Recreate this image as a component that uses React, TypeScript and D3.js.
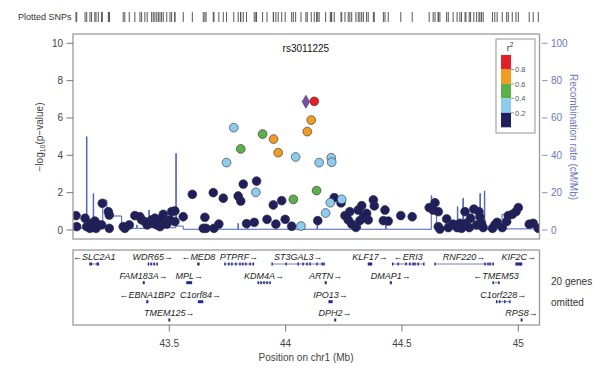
import * as d3 from "d3";

// SNPs: position (Mb), -log10(p), r2 with the lead SNP
const snpPos = [
  43.099, 43.102, 43.138, 43.145, 43.159, 43.166, 43.18, 43.185, 43.195, 43.209, 43.212, 43.238, 43.242, 43.242,
  43.302, 43.309, 43.328, 43.352, 43.374, 43.381, 43.395, 43.405, 43.424, 43.431, 43.438, 43.446, 43.453, 43.46,
  43.467, 43.474, 43.489, 43.503, 43.51, 43.524, 43.524, 43.56, 43.599, 43.646, 43.658, 43.653, 43.689, 43.692,
  43.713, 43.732, 43.818, 43.875, 43.796, 43.807, 43.947, 43.983, 43.832, 43.865, 43.92, 43.958, 43.998, 44.026,
  44.138, 44.209, 44.238, 44.255, 44.269, 44.284, 44.302, 44.276, 44.312, 44.327, 44.334, 44.348, 44.355, 44.377,
  44.381, 44.319, 44.427, 44.42, 44.441, 44.495, 44.544, 44.617, 44.642, 44.634, 44.656, 44.656, 44.663, 44.692,
  44.699, 44.72, 44.737, 44.749, 44.756, 44.771, 44.775, 44.789, 44.795, 44.809, 44.821, 44.831, 44.835, 44.842,
  44.849, 44.899, 44.909, 44.889, 44.931, 44.95, 44.957, 44.974, 44.99, 45.0, 45.047, 45.064, 45.086,
  43.777, 43.746, 44.043, 44.144, 44.196, 44.198, 43.872, 44.066, 44.172, 44.192, 44.241,
  43.901, 43.807, 44.033, 44.133,
  44.11, 44.093, 43.948, 43.968,
  44.123,
];
const snpLogP = [
  0.77, 0.18, 0.63, 0.18, 0.09, 0.36, 0.48, 0.09, 0.27, 0.27, 1.43, 0.98, 0.8, 0.09,
  0.18, 0.09, 0.27, 0.77, 0.71, 0.54, 0.45, 0.27, 0.54, 0.36, 0.63, 0.27, 0.45, 0.18,
  0.63, 0.84, 0.31, 0.54, 0.98, 1.02, 0.45, 0.71, 1.91, 0.09, 0.09, 0.68, 2.0, 0.09,
  0.32, 1.7, 2.46, 2.62, 1.82, 1.55, 1.34, 1.57, 0.34, 0.41, 0.57, 0.32, 0.57, 0.2,
  0.5, 1.73, 1.45, 0.77, 0.54, 0.32, 0.14, 0.98, 1.07, 1.3, 0.71, 0.89, 0.54, 1.61,
  1.29, 0.5, 1.07, 0.5, 0.48, 0.77, 0.71, 1.2, 1.46, 1.07, 0.98, 0.18, 0.05, 0.59,
  0.13, 0.31, 0.13, 0.36, 0.09, 0.98, 0.36, 0.13, 0.63, 1.12, 0.27, 0.98, 0.71, 0.36,
  0.13, 0.27, 0.41, 0.09, 0.13, 0.45, 0.77, 0.84, 0.98, 1.2, 0.31, 0.36, 0.09,
  5.48, 3.61, 3.91, 3.61, 3.87, 3.63, 2.02, 0.21, 0.91, 1.46, 1.64,
  5.14, 4.34, 1.64, 2.11,
  5.89, 5.27, 4.87, 4.14,
  6.89,
];
const snpR2 = [
  ...Array(111).fill(0.1),
  0.3, 0.3, 0.3, 0.3, 0.3, 0.3, 0.3, 0.3, 0.3, 0.3, 0.3,
  0.5, 0.5, 0.5, 0.5,
  0.7, 0.7, 0.7, 0.7,
  0.9,
];
const leadName = "rs3011225";
const leadPos = 44.087;
const leadLogP = 6.87;

// recombination rate (cM/Mb), step line
const recombPos = [
  43.07, 43.143, 43.144, 43.146, 43.172, 43.173, 43.175, 43.214, 43.232, 43.295, 43.36, 43.362, 43.412, 43.414,
  43.452, 43.454, 43.528, 43.53, 43.56, 43.795, 43.797, 43.835, 43.837, 44.135, 44.137, 44.3, 44.302, 44.32, 44.322,
  44.43, 44.432, 44.626, 44.628, 44.648, 44.738, 44.74, 44.762, 44.764, 44.835, 44.837, 44.854, 44.856, 44.93,
  44.942, 45.1,
];
const recombRate = [
  0.9, 0.9, 50, 0.9, 0.9, 19.5, 2, 16, 7.5, 0.9, 2.7, 0.9, 10.7, 1.2,
  4, 1.2, 41, 2.1, 0.4, 3.5, 0.4, 2, 0.4, 3, 0.4, 3, 0.4, 2.5, 0.4,
  2.8, 0.4, 18.4, 9.5, 0.6, 12.5, 0.6, 17, 0.6, 19.6, 0.6, 20.9, 0.6, 8.4,
  0.6, 0.6,
];

// genes
const geneNames = [
  "SLC2A1", "WDR65", "MED8", "PTPRF", "ST3GAL3", "KLF17", "ERI3", "RNF220", "KIF2C",
  "FAM183A", "MPL", "KDM4A", "ARTN", "DMAP1", "TMEM53",
  "EBNA1BP2", "C1orf84", "IPO13", "C1orf228",
  "TMEM125", "DPH2", "RPS8",
];
const geneStart = [
  43.159, 43.41, 43.622, 43.739, 43.94, 44.355, 44.46, 44.642, 44.99,
  43.388, 43.575, 43.882, 44.17, 44.45, 44.892,
  43.403, 43.625, 44.186, 44.907,
  43.498, 44.211, 45.012,
];
const geneEnd = [
  43.195, 43.448, 43.628, 43.861, 44.169, 44.37, 44.594, 44.892, 45.014,
  43.392, 43.596, 43.933, 44.174, 44.453, 44.917,
  43.408, 43.644, 44.2, 44.964,
  43.502, 44.213, 45.015,
];
const geneStrand = [-1, 1, -1, 1, 1, 1, -1, 1, 1, 1, 1, 1, 1, 1, -1, -1, 1, 1, 1, 1, 1, 1];
const geneRow = [0, 0, 0, 0, 0, 0, 0, 0, 0, 1, 1, 1, 1, 1, 1, 2, 2, 2, 2, 3, 3, 3];
const geneExons: number[][] = [
  [43.159, 43.165, 43.19, 43.195],
  [43.41, 43.422, 43.435, 43.448],
  [],
  [43.739, 43.756, 43.769, 43.786, 43.804, 43.816, 43.829, 43.847, 43.861],
  [43.942, 44.002, 44.054, 44.075, 44.092, 44.105, 44.135, 44.157, 44.165],
  [44.355, 44.37],
  [44.46, 44.484, 44.517, 44.534, 44.548, 44.556, 44.57, 44.594],
  [44.642, 44.857, 44.87, 44.879, 44.892],
  [44.99, 44.995, 45.0, 45.005, 45.01, 45.014],
  [],
  [43.575, 43.58, 43.59, 43.596],
  [43.882, 43.894, 43.907, 43.92, 43.933],
  [],
  [],
  [44.892, 44.917],
  [],
  [43.625, 43.644],
  [44.186, 44.19, 44.196, 44.2],
  [44.907, 44.92, 44.942, 44.964],
  [],
  [],
  [],
];

const xTicks = [43.5, 44, 44.5, 45];
const yTicks = [0, 2, 4, 6, 8, 10];
const recombTicks = [0, 20, 40, 60, 80, 100];
const r2Breaks = [0.2, 0.4, 0.6, 0.8];
const r2Colors = ["#1f1f5e", "#8fcbea", "#5bb049", "#f29d22", "#e42027"];

const FONT = "'Liberation Sans', Arial, sans-serif";
const AXIS_GREY = "#555";
const RECOMB_BLUE = "#6a79bd";
const GENE_BLUE = "#1f2a8a";

const App = () => {
  const box = { left: 73, right: 539.5, top: 34, bottom: 239 };
  const gbox = { top: 250, bottom: 325 };

  const x = d3.scaleLinear().domain([43.5, 45]).range([169.3, 518.3]);
  const y = d3.scaleLinear().domain([0, 10]).range([230, 43.3]);
  const yRec = d3.scaleLinear().domain([0, 100]).range([230, 43.3]);
  const color = d3.scaleThreshold<number, string>().domain(r2Breaks).range(r2Colors);

  const recombLine = d3
    .line<number>()
    .x((_, i) => x(recombPos[i]))
    .y((d) => yRec(d))
    .curve(d3.curveStepAfter);

  const snps = snpPos
    .map((p, i) => ({ p, lp: snpLogP[i], r2: snpR2[i] }))
    .sort((a, b) => a.r2 - b.r2);

  const rowBody = [264, 282.7, 301.7, 320];
  const diamond = d3.symbol().type(d3.symbolDiamond).size(48)();

  // legend geometry
  const leg = { x: 496, y: 39, w: 39, h: 94, barX: 501, barW: 10, barTop: 55, barBot: 127.3 };
  const segH = (leg.barBot - leg.barTop) / r2Colors.length;

  return (
    <svg
      width={600}
      height={368}
      style={{ position: "absolute", left: 0, top: 0, background: "#fff" }}
      fontFamily={FONT}
    >
      <defs>
        <clipPath id="plotClip">
          <rect x={box.left} y={box.top} width={box.right - box.left} height={box.bottom - box.top} />
        </clipPath>
      </defs>

      {/* rug of plotted SNPs */}
      <text x={18} y={20} fontSize={9} fill="#333">
        Plotted SNPs
      </text>
      {[...snpPos, leadPos].map((p, i) => (
        <line key={"rug" + i} x1={x(p)} x2={x(p)} y1={12} y2={22} stroke="#444" strokeWidth={0.9} />
      ))}

      {/* main panel */}
      <g clipPath="url(#plotClip)">
        <path d={recombLine(recombRate) ?? ""} fill="none" stroke="#4a5fc1" strokeWidth={1} />
        {snps.map((s, i) => (
          <circle
            key={"snp" + i}
            cx={x(s.p)}
            cy={y(s.lp)}
            r={4.4}
            fill={color(s.r2)}
            stroke="#2a2a3a"
            strokeWidth={0.6}
          />
        ))}
        <path
          d={diamond ?? ""}
          transform={`translate(${x(leadPos)},${y(leadLogP)})`}
          fill="#7b4fa3"
          stroke="#3a2a55"
          strokeWidth={0.6}
        />
      </g>
      <rect
        x={box.left}
        y={box.top}
        width={box.right - box.left}
        height={box.bottom - box.top}
        fill="none"
        stroke="#9a9a9a"
        strokeWidth={1.3}
      />
      <text x={x(leadPos)} y={51.5} textAnchor="middle" fontSize={10} fill="#111">
        {leadName}
      </text>

      {/* left axis */}
      {yTicks.map((t) => (
        <g key={"yt" + t}>
          <line x1={66.5} x2={box.left} y1={y(t)} y2={y(t)} stroke={AXIS_GREY} strokeWidth={0.8} />
          <text x={63} y={y(t) + 3.5} textAnchor="end" fontSize={10} fill="#444">
            {t}
          </text>
        </g>
      ))}
      <text transform={`translate(43,137) rotate(-90)`} textAnchor="middle" fontSize={10} fill="#444">
        −log
        <tspan fontSize={7} dy={2}>
          10
        </tspan>
        <tspan dy={-2}>(p−value)</tspan>
      </text>

      {/* right axis */}
      {recombTicks.map((t) => (
        <g key={"rt" + t}>
          <line x1={542} x2={547.5} y1={yRec(t)} y2={yRec(t)} stroke={RECOMB_BLUE} strokeWidth={0.8} />
          <text x={551} y={yRec(t) + 3.5} fontSize={10} fill={RECOMB_BLUE}>
            {t}
          </text>
        </g>
      ))}
      <text transform={`translate(570,137) rotate(90)`} textAnchor="middle" fontSize={10} fill={RECOMB_BLUE}>
        Recombination rate (cM/Mb)
      </text>

      {/* legend */}
      <rect x={leg.x} y={leg.y} width={leg.w} height={leg.h} fill="#fff" stroke="#8a8a8a" strokeWidth={0.9} />
      <text x={leg.barX + 9} y={51} textAnchor="middle" fontSize={9} fill="#333">
        r
        <tspan fontSize={6.5} dy={-4}>
          2
        </tspan>
      </text>
      {r2Colors
        .slice()
        .reverse()
        .map((c, i) => (
          <rect
            key={"lg" + i}
            x={leg.barX}
            y={leg.barTop + i * segH}
            width={leg.barW}
            height={segH}
            fill={c}
          />
        ))}
      {r2Breaks
        .slice()
        .reverse()
        .map((b, i) => {
          const yy = leg.barTop + (i + 1) * segH;
          return (
            <g key={"lb" + b}>
              <line x1={leg.barX + leg.barW} x2={leg.barX + leg.barW + 3} y1={yy} y2={yy} stroke="#666" strokeWidth={0.7} />
              <text x={leg.barX + leg.barW + 4} y={yy + 2.8} fontSize={7.5} fill="#555">
                {b.toFixed(1)}
              </text>
            </g>
          );
        })}

      {/* gene panel */}
      <rect
        x={box.left}
        y={gbox.top}
        width={box.right - box.left}
        height={gbox.bottom - gbox.top}
        fill="none"
        stroke="#9a9a9a"
        strokeWidth={1.3}
      />
      {geneNames.map((name, i) => {
        const x0 = x(geneStart[i]);
        const x1 = x(geneEnd[i]);
        const by = rowBody[geneRow[i]];
        const label = geneStrand[i] > 0 ? `${name}→` : `←${name}`;
        const exons = geneExons[i];
        const short = x1 - x0 < 5 || exons.length === 0;
        return (
          <g key={"gene" + name}>
            {short ? (
              <rect x={x0 - 0.5} y={by - 1.5} width={Math.max(x1 - x0, 1) + 1} height={3} fill={GENE_BLUE} />
            ) : (
              <>
                <line x1={x0} x2={x1} y1={by} y2={by} stroke={GENE_BLUE} strokeWidth={0.6} />
                {exons.map((e, j) => (
                  <rect key={j} x={x(e) - 0.7} y={by - 1.5} width={1.4} height={3} fill={GENE_BLUE} />
                ))}
              </>
            )}
            <text
              x={(x0 + x1) / 2}
              y={by - 4}
              textAnchor="middle"
              fontSize={9}
              fontStyle="italic"
              fill="#222"
            >
              {label}
            </text>
          </g>
        );
      })}
      <text x={551} y={285} fontSize={10} fill="#333">
        20 genes
      </text>
      <text x={551} y={306} fontSize={10} fill="#333">
        omitted
      </text>

      {/* x axis */}
      {xTicks.map((t) => (
        <g key={"xt" + t}>
          <line x1={x(t)} x2={x(t)} y1={gbox.bottom} y2={gbox.bottom + 6.5} stroke={AXIS_GREY} strokeWidth={0.8} />
          <text x={x(t)} y={347} textAnchor="middle" fontSize={10} fill="#444">
            {t}
          </text>
        </g>
      ))}
      <text x={306} y={361} textAnchor="middle" fontSize={10} fill="#444">
        Position on chr1 (Mb)
      </text>
    </svg>
  );
};

export default App;
